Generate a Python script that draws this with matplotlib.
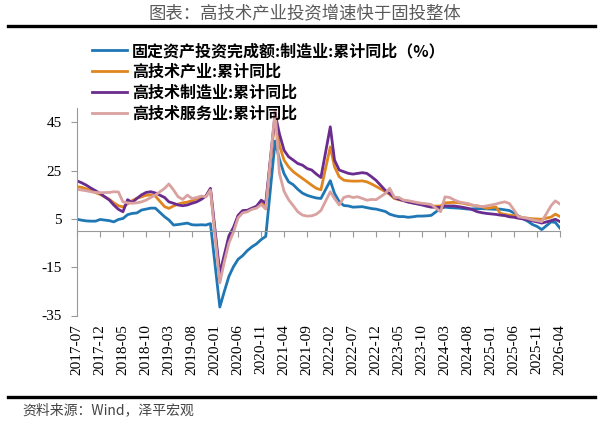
import pandas as pd
import matplotlib.pyplot as plt
import matplotlib.dates as mdates
from matplotlib.lines import Line2D

plt.rcParams['font.family'] = ['Noto Sans CJK SC', 'DejaVu Sans']

# Monthly cumulative data, no January figure (Jan-Feb reported together)
dates = pd.date_range('2017-07-01', '2026-04-01', freq='MS')
dates = dates[dates.month != 1]

# 固定资产投资完成额:制造业:累计同比
manufacturing = [
    4.9, 4.5, 4.2, 4.1, 4.1, 4.8,
    4.3, 3.8, 4.8, 5.2, 6.8, 7.3, 7.5, 8.7, 9.1, 9.5, 9.5,
    5.9, 4.6, 2.5, 2.7, 3.0, 3.3, 2.6, 2.5, 2.6, 2.5, 3.1,
    -31.5, -25.2, -18.8, -14.8, -11.7, -10.2, -8.1, -6.5, -5.3, -3.5, -2.2,
    37.3, 29.8, 23.8, 20.4, 19.2, 17.3, 15.7, 14.8, 14.2, 13.7, 13.5,
    20.9, 15.6, 12.2, 10.6, 10.4, 9.9, 10.0, 10.1, 9.7, 9.3, 9.1,
    8.1, 7.0, 6.4, 6.0, 6.0, 5.7, 5.9, 6.2, 6.2, 6.3, 6.5,
    9.4, 9.9, 9.7, 9.6, 9.5, 9.3, 9.1, 9.2, 9.3, 9.3, 9.2,
    9.0, 9.1, 8.8, 8.5, 7.5, 6.2, 5.1, 4.0, 2.7, 1.9, 0.6,
    3.8, 3.6, 1.2,
]

# 高技术产业:累计同比
hightech = [
    18.4, 18.1, 17.5, 16.7, 15.9, 15.2,
    13.1, 11.7, 10.5, 10.0, 11.3, 12.6, 13.6, 14.2, 14.8, 15.0, 14.5,
    10.1, 9.4, 10.4, 11.2, 11.7, 12.0, 12.6, 13.4, 13.9, 14.5, 17.3,
    -19.5, -12.0, -3.6, 0.6, 6.3, 8.0, 8.3, 9.3, 10.0, 11.5, 10.6,
    47.3, 35.6, 29.4, 26.6, 24.6, 23.2, 21.8, 20.4, 19.0, 17.7, 17.1,
    34.9, 26.6, 22.5, 21.1, 20.8, 20.7, 20.7, 20.8, 20.4, 19.5, 18.5,
    16.3, 15.2, 13.5, 13.0, 12.6, 12.1, 11.7, 11.4, 11.1, 10.6, 10.3,
    10.4, 11.7, 11.8, 11.9, 11.7, 11.5, 11.0, 10.7, 10.4, 10.1, 9.4,
    10.0, 7.4, 6.9, 6.6, 6.4, 5.9, 5.6, 5.3, 5.1, 5.0, 4.9,
    5.8, 7.0, 6.0,
]

# 高技术制造业:累计同比
hightech_mfg = [
    20.8, 20.0, 19.0, 17.8, 16.7, 15.6,
    12.8, 10.8, 9.0, 8.0, 13.0, 11.8, 13.5, 15.0, 16.0, 16.3, 15.8,
    13.9, 12.1, 11.5, 10.8, 10.5, 10.8, 11.5, 12.1, 13.1, 14.5, 17.7,
    -17.5, -10.0, -2.0, 1.5, 6.5, 8.5, 8.6, 9.5, 10.3, 12.8, 11.5,
    48.7, 40.4, 33.5, 30.8, 29.4, 28.0, 27.3, 25.9, 25.3, 23.6, 22.2,
    43.2, 29.4, 25.3, 24.6, 23.9, 23.6, 23.9, 24.2, 23.9, 22.5, 21.0,
    16.8, 15.6, 13.9, 13.2, 12.6, 12.0, 11.6, 11.2, 10.8, 10.3, 9.9,
    9.8, 10.4, 10.4, 10.4, 10.1, 9.8, 9.4, 8.8, 8.0, 7.6, 7.3,
    6.9, 6.6, 6.4, 5.9, 5.7, 5.3, 5.0, 4.6, 4.2, 3.8, 3.3,
    4.3, 4.9, 3.9,
]

# 高技术服务业:累计同比
hightech_srv = [
    17.3, 17.0, 16.7, 16.3, 16.0, 15.9,
    16.0, 16.3, 16.2, 12.1, 11.7, 11.5, 11.7, 12.1, 12.8, 13.9, 14.9,
    17.7, 19.5, 17.0, 14.2, 13.1, 14.9, 13.5, 13.9, 14.5, 14.2, 17.0,
    -21.5, -13.0, -5.0, -0.5, 5.5, 7.5, 8.0, 9.0, 9.5, 11.0, 9.1,
    50.1, 24.0, 16.5, 13.0, 10.5, 8.0, 6.6, 6.2, 6.3, 7.0, 8.5,
    16.3, 13.5, 10.8, 13.9, 14.5, 13.9, 14.2, 13.5, 12.8, 13.1, 13.0,
    15.6, 17.7, 14.0, 13.9, 12.8, 12.6, 12.2, 11.8, 11.5, 11.3, 11.0,
    8.0, 14.2, 13.9, 12.9, 12.1, 11.7, 11.4, 10.7, 10.4, 10.1, 10.4,
    11.2, 11.7, 12.1, 11.4, 8.7, 5.9, 5.6, 5.2, 4.6, 4.3, 3.9,
    10.5, 12.5, 11.2,
]

labels = ['固定资产投资完成额:制造业:累计同比（%）', '高技术产业:累计同比',
          '高技术制造业:累计同比', '高技术服务业:累计同比']
colors = ['#1f77b4', '#e0861f', '#6a2c8e', '#d9a2a0']

tick_labels = ['2017-07', '2017-12', '2018-05', '2018-10', '2019-03', '2019-08',
               '2020-01', '2020-06', '2020-11', '2021-04', '2021-09', '2022-02',
               '2022-07', '2022-12', '2023-05', '2023-10', '2024-03', '2024-08',
               '2025-01', '2025-06', '2025-11', '2026-04']
y_ticks = [45, 25, 5, -15, -35]

x = mdates.date2num(dates)
tick_x = mdates.date2num(pd.to_datetime(tick_labels))

fig = plt.figure(figsize=(6, 4.24), dpi=100)
ax = fig.add_axes([77 / 600, 1 - 315.5 / 424, 483 / 600, 207.5 / 424])

lines = []
for vals, lab, col in zip([manufacturing, hightech, hightech_mfg, hightech_srv], labels, colors):
    ln, = ax.plot(x, vals, color=col, lw=2.0, label=lab, solid_joinstyle='round')
    lines.append(ln)

ax.set_xlim(tick_x[0], tick_x[-1])
ax.set_ylim(-35, 51)

for s in ['top', 'right']:
    ax.spines[s].set_visible(False)
ax.spines['left'].set_color('#999999')
ax.spines['bottom'].set_color('#999999')
ax.spines['bottom'].set_position(('data', 0))

ax.set_yticks(y_ticks)
ax.set_yticklabels([str(v) for v in y_ticks], family='Liberation Serif', fontsize=11)
ax.tick_params(axis='y', direction='out', length=4, color='#999999', pad=7)

ax.set_xticks(tick_x)
ax.tick_params(axis='x', direction='out', length=4, color='#999999', labelbottom=False)

# tick labels sit at the bottom of the plot, not on the zero line
sec = ax.secondary_xaxis(0)
sec.spines['bottom'].set_visible(False)
sec.set_xticks(tick_x)
sec.set_xticklabels(tick_labels, rotation=90, family='Liberation Serif', fontsize=11)
sec.tick_params(axis='x', length=0, pad=6)

fig.legend(lines, labels, loc='upper left', bbox_to_anchor=(92 / 600, 1 - 43 / 424),
           frameon=False, borderpad=0, borderaxespad=0, handlelength=2.2,
           handletextpad=0.3, labelspacing=0.3,
           prop={'family': ['Noto Sans CJK SC', 'DejaVu Sans'], 'size': 11.5, 'weight': 'bold'})

fig.text(305 / 600, 1 - 13 / 424, '图表：高技术产业投资增速快于固投整体', ha='center', va='center',
         fontsize=12.5, color='#595959')
fig.add_artist(Line2D([8 / 600, 595 / 600], [1 - 26 / 424] * 2, color='black', lw=2.4))
fig.add_artist(Line2D([8 / 600, 595 / 600], [1 - 397 / 424] * 2, color='black', lw=2.4))
fig.text(22 / 600, 1 - 410 / 424, '资料来源：Wind，泽平宏观', ha='left', va='center',
         fontsize=10, color='#444444', style='italic')

plt.savefig('out.png', dpi=100)
